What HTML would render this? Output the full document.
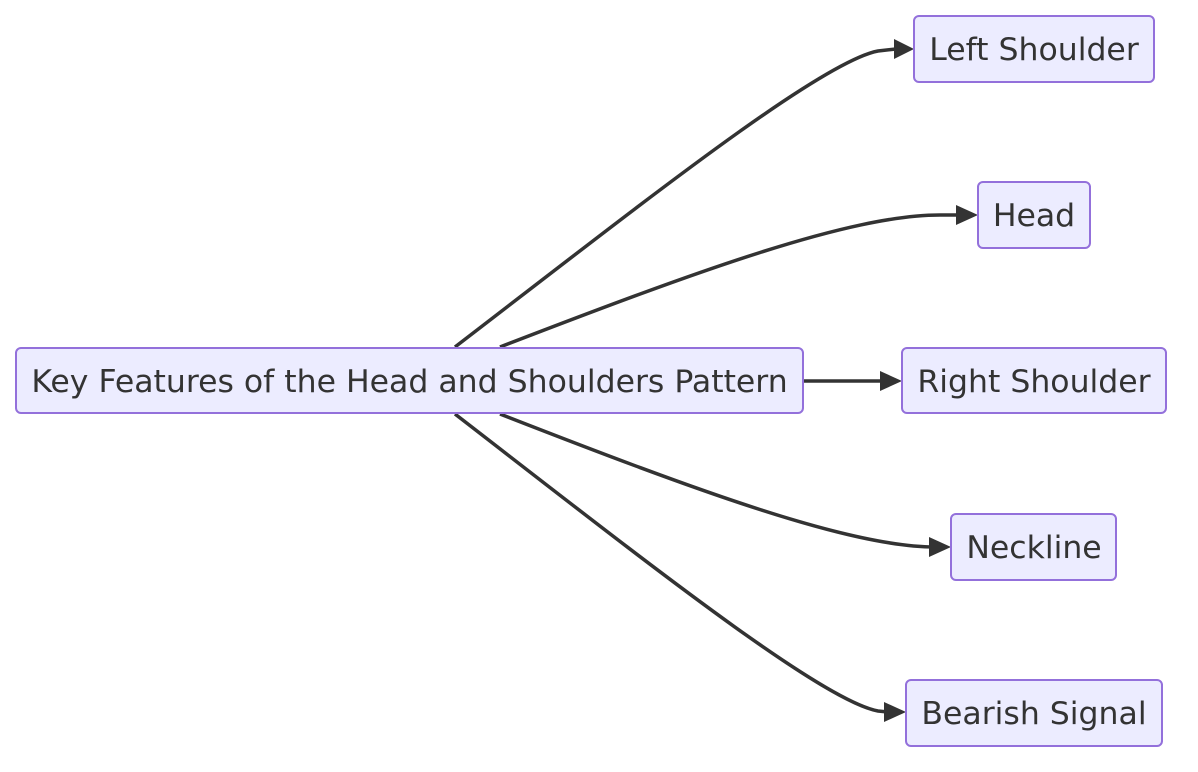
<!DOCTYPE html>
<html><head><meta charset="utf-8"><style>
html,body{margin:0;padding:0;background:#fff;}
svg{display:block;}
text{font-family:"DejaVu Sans","Liberation Sans",sans-serif;font-size:31.5px;fill:#333;}
</style></head><body>
<svg width="1198" height="772" viewBox="0 0 1198 772" xmlns="http://www.w3.org/2000/svg">
<g fill="none" stroke="#333" stroke-width="3.5">
<path d="M455,347 C640,205 820,62 878,51 L896,49"/>
<path d="M500,347 C700,270 850,215 940,215 L960,215"/>
<path d="M803,381 L884,381"/>
<path d="M500,414 C700,492 850,547 935,547 L933,547"/>
<path d="M455,414 C640,557 820,700 878,711 L888,712"/>
</g>
<g fill="#333">
<polygon points="894,39 914,49 894,59"/>
<polygon points="956,205 978,215 956,225"/>
<polygon points="880,371 902,381 880,391"/>
<polygon points="929,537 951,547 929,557"/>
<polygon points="884,702 906,712 884,722"/>
</g>
<g fill="#ECECFF" stroke="#9370DB" stroke-width="2">
<rect x="16" y="348" width="787" height="65" rx="5"/>
<rect x="914" y="16" width="240" height="66" rx="5"/>
<rect x="978" y="182" width="112" height="66" rx="5"/>
<rect x="902" y="348" width="264" height="65" rx="5"/>
<rect x="951" y="514" width="165" height="66" rx="5"/>
<rect x="906" y="680" width="256" height="66" rx="5"/>
</g>
<g text-anchor="middle">
<text x="409.5" y="392">Key Features of the Head and Shoulders Pattern</text>
<text x="1034" y="60">Left Shoulder</text>
<text x="1034" y="226">Head</text>
<text x="1034" y="392">Right Shoulder</text>
<text x="1034" y="558">Neckline</text>
<text x="1034" y="724">Bearish Signal</text>
</g>
</svg>
</body></html>
